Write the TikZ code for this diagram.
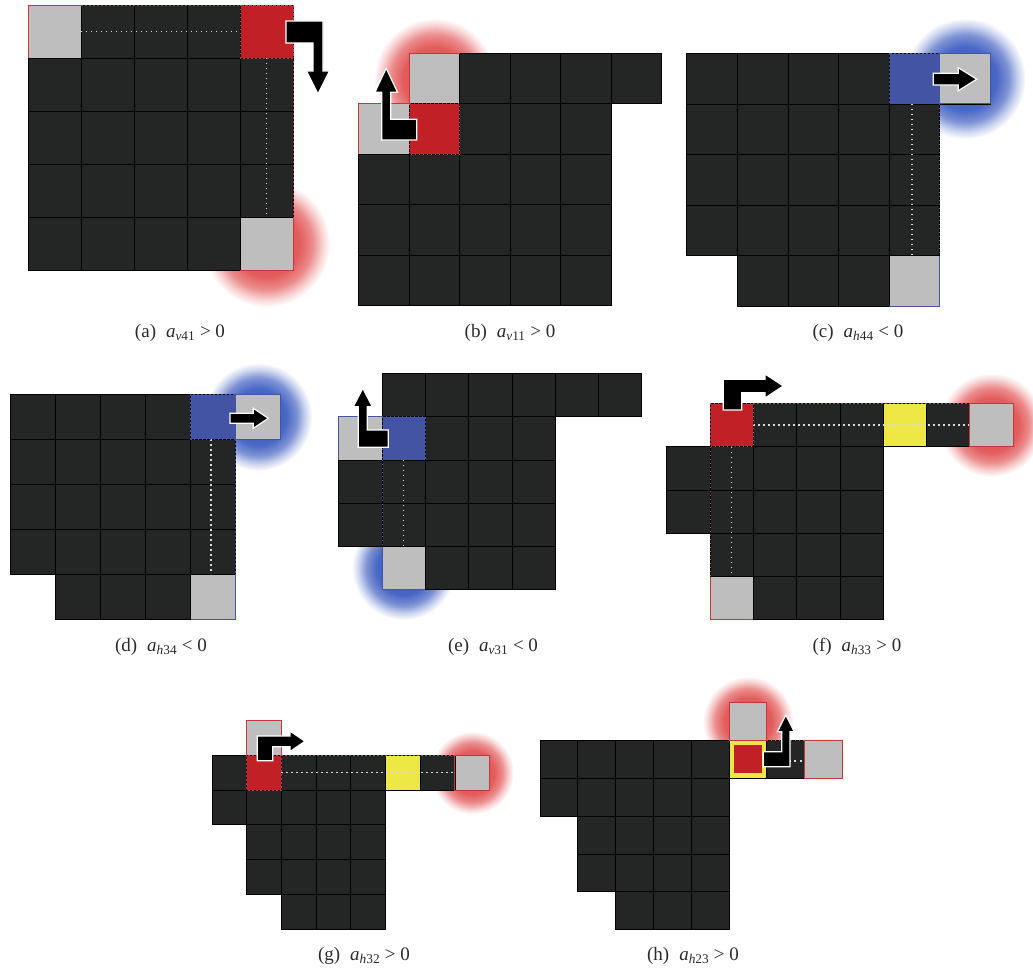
\documentclass[tikz,border=0pt]{standalone}
\usepackage{fontspec}
\setmainfont{Liberation Serif}
\usepackage{tikz}
\definecolor{cellink}{HTML}{242626}
\definecolor{cellgrey}{HTML}{BEBEBE}
\definecolor{pathred}{HTML}{C02026}
\definecolor{pathblue}{HTML}{4254A3}
\definecolor{pathyellow}{HTML}{EDE843}
\definecolor{glowred}{HTML}{E04A4A}
\definecolor{glowblue}{HTML}{3556BE}
\definecolor{captext}{HTML}{2A2A2A}
\pgfdeclareradialshading{redglow}{\pgfpoint{0bp}{0bp}}{color(0bp)=(glowred); color(13bp)=(glowred!90!white); color(18bp)=(glowred!64!white); color(22bp)=(glowred!24!white); color(25bp)=(white); color(50bp)=(white)}
\pgfdeclareradialshading{blueglow}{\pgfpoint{0bp}{0bp}}{color(0bp)=(glowblue); color(13bp)=(glowblue!90!white); color(18bp)=(glowblue!64!white); color(22bp)=(glowblue!24!white); color(25bp)=(white); color(50bp)=(white)}
\newcommand{\cellrow}[3]{\foreach \c in {#2,...,#3} \draw[darkcell] (\c,#1) rectangle ++(1,1);}
\newcommand{\actlabel}[3]{(#1)\hspace{10pt}\textit{a}\textsubscript{\textit{#2}#3}}
\tikzset{
  darkcell/.style={draw=black,line width=0.7pt,fill=cellink},
  greycell/.style={darkcell,fill=cellgrey},
  redcell/.style={darkcell,fill=pathred},
  bluecell/.style={darkcell,fill=pathblue},
  yellowcell/.style={darkcell,fill=pathyellow},
  trail/.style={draw=white!85!black,line width=1.3pt,dash pattern=on 1.3pt off 3.7pt},
  redrim/.style={draw=pathred!90!white,line width=0.9pt},
  bluerim/.style={draw=pathblue,line width=0.9pt},
  dashrim/.style={dash pattern=on 1.5pt off 2.5pt},
  turn/.style={fill=black,draw=white,line width=1.2pt,line join=miter},
  caption/.style={font=\fontsize{19}{23}\selectfont,text=captext},
}
\begin{document}
\begin{tikzpicture}[x=1pt,y=-1pt]
  \useasboundingbox (0,0) rectangle (1033,974);
  \begin{scope}[shift={(28,5)},x=53pt,y=-53pt]
    \shade[shading=redglow] (4.5,4.5) circle (1.2);
    \foreach \r in {0,...,4} {\cellrow{\r}{0}{4}}
    \draw[greycell] (0,0) rectangle ++(1,1);
    \draw[redcell] (4,0) rectangle ++(1,1);
    \draw[greycell] (4,4) rectangle ++(1,1);
    \draw[trail] (1,0.5) -- (4,0.5);
    \draw[trail] (4.5,1) -- (4.5,4);
    \draw[redrim] (0,1) -- (0,0) -- (1,0);
    \draw[redrim,dashrim] (1,0) -- (5,0) -- (5,4);
    \draw[redrim,dashrim] (4,0) rectangle ++(1,1);
    \draw[redrim] (5,4) -- (5,5) -- (4,5);
  \end{scope}
  \draw[turn] (286,21) -- (323,21) -- (323,71) -- (329.5,71) -- (318,94) -- (306.5,71) -- (313,71) -- (313,43) -- (286,43) -- cycle;
  \node[caption] (capA) at (180,333) {\actlabel{a}{v}{41} > 0};

  \begin{scope}[shift={(358.7,53.3)},x=50.5pt,y=-50.5pt]
    \shade[shading=redglow] (1.5,0.5) circle (1.2);
    \cellrow{0}{1}{5}
    \foreach \r in {1,...,4} {\cellrow{\r}{0}{4}}
    \draw[greycell] (1,0) rectangle ++(1,1);
    \draw[greycell] (0,1) rectangle ++(1,1);
    \draw[redcell] (1,1) rectangle ++(1,1);
    \draw[redrim] (1,1) -- (1,0) -- (2,0);
    \draw[redrim] (0,2) -- (0,1) -- (1,1);
    \draw[redrim,dashrim] (1,1) rectangle ++(1,1);
  \end{scope}
  \draw[turn] (381.7,140) -- (416.7,140) -- (416.7,119.3) -- (390.7,119.3) -- (390.7,92.3) -- (397.5,92.3) -- (386.2,68.3) -- (374.9,92.3) -- (381.7,92.3) -- cycle;
  \node[caption] (capB) at (510,333) {\actlabel{b}{v}{11} > 0};

  \begin{scope}[shift={(686.7,53.3)},x=50.6pt,y=-50.6pt]
    \shade[shading=blueglow] (5.5,0.5) circle (1.2);
    \cellrow{0}{0}{3}
    \foreach \r in {1,...,3} {\cellrow{\r}{0}{4}}
    \cellrow{4}{1}{3}
    \draw[bluecell] (4,0) rectangle ++(1,1);
    \draw[greycell] (5,0) rectangle ++(1,1);
    \draw[greycell] (4,4) rectangle ++(1,1);
    \draw[trail] (4.45,1) -- (4.45,4);
    \draw[bluerim,dashrim] (4,0) rectangle ++(1,1);
    \draw[bluerim] (5,0) rectangle ++(1,1);
    \draw[bluerim,dashrim] (5,1) -- (5,4);
    \draw[bluerim] (5,4) -- (5,5) -- (4,5);
  \end{scope}
  \draw[turn] (933.3,73.3) -- (958.3,73.3) -- (958.3,67.7) -- (976.7,79.2) -- (958.3,90.7) -- (958.3,85) -- (933.3,85) -- cycle;
  \node[caption] (capC) at (858,333) {\actlabel{c}{h}{44} < 0};

  \begin{scope}[shift={(10.7,394.3)},x=45pt,y=-45pt]
    \shade[shading=blueglow] (5.5,0.5) circle (1.2);
    \cellrow{0}{0}{3}
    \foreach \r in {1,...,3} {\cellrow{\r}{0}{4}}
    \cellrow{4}{1}{3}
    \draw[bluecell] (4,0) rectangle ++(1,1);
    \draw[greycell] (5,0) rectangle ++(1,1);
    \draw[greycell] (4,4) rectangle ++(1,1);
    \draw[trail] (4.45,1) -- (4.45,4);
    \draw[bluerim,dashrim] (4,0) rectangle ++(1,1);
    \draw[bluerim] (5,0) rectangle ++(1,1);
    \draw[bluerim,dashrim] (5,1) -- (5,4);
    \draw[bluerim] (5,4) -- (5,5) -- (4,5);
  \end{scope}
  \draw[turn] (230,413.3) -- (253.3,413.3) -- (253.3,408.3) -- (268.3,418.3) -- (253.3,428.3) -- (253.3,423.3) -- (230,423.3) -- cycle;
  \node[caption] (capD) at (161,647) {\actlabel{d}{h}{34} < 0};

  \begin{scope}[shift={(338.7,373.3)},x=43.3pt,y=-43.3pt]
    \shade[shading=blueglow] (1.5,4.5) circle (1.2);
    \cellrow{0}{1}{6}
    \foreach \r in {1,...,3} {\cellrow{\r}{0}{4}}
    \cellrow{4}{1}{4}
    \draw[greycell] (0,1) rectangle ++(1,1);
    \draw[bluecell] (1,1) rectangle ++(1,1);
    \draw[greycell] (1,4) rectangle ++(1,1);
    \draw[trail] (1.5,2) -- (1.5,4);
    \draw[bluerim] (0,2) -- (0,1) -- (1,1);
    \draw[bluerim,dashrim] (1,1) rectangle ++(1,1);
    \draw[bluerim,dashrim] (1,2) -- (1,4);
    \draw[bluerim] (1,4) -- (1,5) -- (2,5);
  \end{scope}
  \draw[turn] (358.3,447.3) -- (388.3,447.3) -- (388.3,430) -- (367.3,430) -- (367.3,406.7) -- (372.3,406.7) -- (362.8,388.3) -- (353.3,406.7) -- (358.3,406.7) -- cycle;
  \node[caption] (capE) at (493,647) {\actlabel{e}{v}{31} < 0};

  \begin{scope}[shift={(666.7,403.3)},x=43.3pt,y=-43.3pt]
    \shade[shading=redglow] (7.5,0.5) circle (1.2);
    \cellrow{0}{1}{7}
    \cellrow{1}{0}{4}
    \cellrow{2}{0}{4}
    \cellrow{3}{1}{4}
    \cellrow{4}{1}{4}
    \draw[redcell] (1,0) rectangle ++(1,1);
    \draw[yellowcell] (5,0) rectangle ++(1,1);
    \draw[greycell] (7,0) rectangle ++(1,1);
    \draw[greycell] (1,4) rectangle ++(1,1);
    \draw[trail] (2,0.5) -- (7,0.5);
    \draw[trail] (1.5,1) -- (1.5,4);
    \draw[redrim,dashrim] (1,0) rectangle ++(1,1);
    \draw[redrim,dashrim] (2,0) -- (7,0);
    \draw[redrim] (7,0) rectangle ++(1,1);
    \draw[redrim,dashrim] (1,1) -- (1,4);
    \draw[redrim] (1,4) -- (1,5) -- (2,5);
  \end{scope}
  \draw[turn] (723.3,410) -- (741.7,410) -- (741.7,392.7) -- (765,392.7) -- (765,398) -- (783.3,386) -- (765,374) -- (765,379.3) -- (723.3,379.3) -- cycle;
  \node[caption] (capF) at (857,647) {\actlabel{f}{h}{33} > 0};

  \begin{scope}[shift={(212,720.7)},x=34.7pt,y=-34.7pt]
    \shade[shading=redglow] (7.5,1.5) circle (1.2);
    \cellrow{0}{1}{1}
    \cellrow{1}{0}{7}
    \cellrow{2}{0}{4}
    \cellrow{3}{1}{4}
    \cellrow{4}{1}{4}
    \cellrow{5}{2}{4}
    \draw[greycell] (1,0) rectangle ++(1,1);
    \draw[redcell] (1,1) rectangle ++(1,1);
    \draw[yellowcell] (5,1) rectangle ++(1,1);
    \draw[greycell] (7,1) rectangle ++(1,1);
    \draw[trail] (2,1.5) -- (7,1.5);
    \draw[redrim] (1,1) -- (1,0) -- (2,0) -- (2,1);
    \draw[redrim,dashrim] (1,1) rectangle ++(1,1);
    \draw[redrim,dashrim] (2,1) -- (7,1);
    \draw[redrim] (7,1) rectangle ++(1,1);
  \end{scope}
  \draw[turn] (257.3,760.7) -- (272.7,760.7) -- (272.7,746.7) -- (290,746.7) -- (290,751.5) -- (305,741.3) -- (290,731) -- (290,736) -- (257.3,736) -- cycle;
  \node[caption] (capG) at (364,956) {\actlabel{g}{h}{32} > 0};

  \begin{scope}[shift={(540,702.7)},x=37.8pt,y=-37.8pt]
    \shade[shading=redglow] (5.5,0.5) circle (1.2);
    \cellrow{0}{5}{5}
    \cellrow{1}{0}{7}
    \cellrow{2}{0}{4}
    \cellrow{3}{1}{4}
    \cellrow{4}{1}{4}
    \cellrow{5}{2}{4}
    \draw[greycell] (5,0) rectangle ++(1,1);
    \draw[yellowcell] (5,1) rectangle ++(1,1);
    \fill[pathred] (5.13,1.13) rectangle (5.87,1.87);
    \draw[greycell] (7,1) rectangle ++(1,1);
    \draw[trail,line width=2pt,dash pattern=on 2pt off 3.5pt] (6,1.55) -- (7,1.55);
    \draw[redrim] (5,0) rectangle ++(1,1);
    \draw[redrim] (7,1) rectangle ++(1,1);
    \draw[redrim,dashrim] (6,1) -- (7,1);
  \end{scope}
  \draw[turn] (763.3,766.7) -- (790,766.7) -- (790,731.7) -- (794.2,731.7) -- (785.8,715) -- (777.4,731.7) -- (781.7,731.7) -- (781.7,751.7) -- (763.3,751.7) -- cycle;
  \node[caption] (capH) at (693,956) {\actlabel{h}{h}{23} > 0};
\end{tikzpicture}
\end{document}
